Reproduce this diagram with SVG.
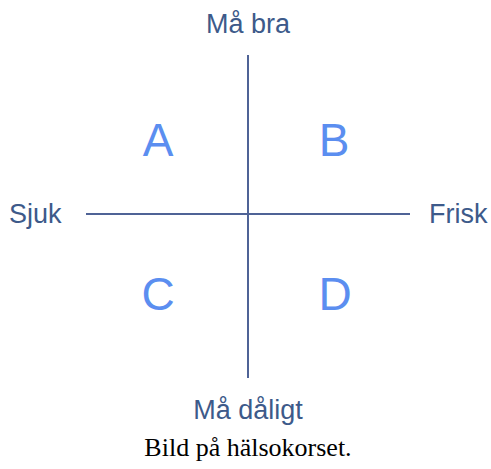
<svg xmlns="http://www.w3.org/2000/svg" width="491" height="469" viewBox="0 0 491 469">
<style>
.axis{stroke:#4f6396;stroke-width:2;fill:none}
.lbl{font-family:"Liberation Sans",Arial,sans-serif;font-size:27px;fill:#3d5a8a}
.q{font-family:"Liberation Sans",Arial,sans-serif;font-size:46px;fill:#5b8ef0;text-anchor:middle}
.cap{font-family:"Liberation Serif","Times New Roman",serif;font-size:26px;fill:#000;text-anchor:middle}
</style>
<rect width="491" height="469" fill="#fff"/>
<g id="connectors">
<line class="axis" x1="248" y1="55" x2="248" y2="378"/>
<line class="axis" x1="86" y1="214" x2="410" y2="214"/>
</g>
<g id="top"><text class="lbl" x="248" y="33" text-anchor="middle">Må bra</text></g>
<g id="bottom"><text class="lbl" x="248" y="419" text-anchor="middle">Må dåligt</text></g>
<g id="left"><text class="lbl" x="9" y="223">Sjuk</text></g>
<g id="right"><text class="lbl" x="429" y="223">Frisk</text></g>
<g id="A"><text class="q" x="158" y="156">A</text></g>
<g id="B"><text class="q" x="334" y="156">B</text></g>
<g id="C"><text class="q" x="158" y="310">C</text></g>
<g id="D"><text class="q" x="335" y="310">D</text></g>
<g id="caption"><text class="cap" x="248" y="456">Bild på hälsokorset.</text></g>
</svg>
